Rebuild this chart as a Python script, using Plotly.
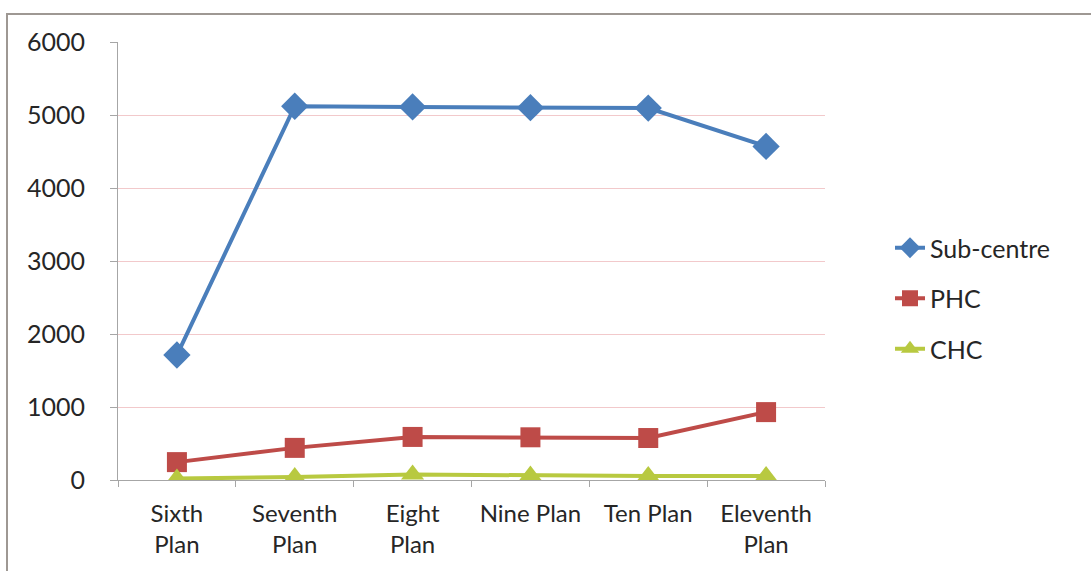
import plotly.graph_objects as go

categories = ["Sixth<br>Plan", "Seventh<br>Plan", "Eight<br>Plan", "Nine Plan", "Ten Plan", "Eleventh<br>Plan"]
sub_centre = [1712, 5120, 5110, 5100, 5095, 4570]
phc = [245, 440, 590, 585, 575, 930]
chc = [20, 40, 75, 60, 55, 55]
y_ticks = [0, 1000, 2000, 3000, 4000, 5000, 6000]

FONT = "Lato, 'Open Sans', sans-serif"
W, H = 1091, 571
L, R, T, B = 118, 825, 42, 480

fig = go.Figure()
series = [
    ("Sub-centre", sub_centre, "#4A7EBB", "diamond", 21),
    ("PHC", phc, "#BE4B48", "square", 20),
    ("CHC", chc, "#B8C940", "triangle-up", 20),
]
for name, vals, color, sym, size in series:
    fig.add_trace(go.Scatter(
        x=list(range(len(categories))), y=vals, name=name, mode="lines+markers",
        legendgroup=name,
        line=dict(color=color, width=4),
        marker=dict(symbol=sym, size=size, color=color),
    ))

fig.update_layout(
    width=W, height=H,
    margin=dict(l=L, r=W - R, t=T, b=H - B, autoexpand=False),
    paper_bgcolor="white", plot_bgcolor="white",
    font=dict(family=FONT, size=25, color="#262626"),
    showlegend=True,
    legend=dict(x=(890 - L) / (R - L), y=(480 - 225) / (B - T), xanchor="left", yanchor="top",
                font=dict(size=25, color="#262626"), tracegroupgap=15,
                bgcolor="rgba(0,0,0,0)"),
    xaxis=dict(
        range=[-0.5, 5.5], tickmode="array", tickvals=list(range(len(categories))),
        ticktext=categories, showgrid=False, zeroline=False,
        showline=True, linecolor="#A6A6A6", linewidth=1,
        ticks="", ticklabelstandoff=12,
        tickfont=dict(size=24),
        minor=dict(tickmode="array", tickvals=[-0.5, 0.5, 1.5, 2.5, 3.5, 4.5, 5.5], ticks="outside", ticklen=6, tickcolor="#A6A6A6"),
    ),
    yaxis=dict(
        range=[0, 6000], tickmode="array", tickvals=y_ticks,
        showgrid=True, gridcolor="#F2C9CB", gridwidth=1, zeroline=False,
        showline=True, linecolor="#A6A6A6", linewidth=1,
        ticks="outside", ticklen=7, tickcolor="#A6A6A6", ticklabelstandoff=20,
    ),
    shapes=[dict(type="rect", xref="paper", yref="paper",
                 x0=(7 - L) / (R - L), x1=(1095 - L) / (R - L),
                 y0=(B - 580) / (B - T), y1=(B - 14) / (B - T),
                 line=dict(color="#9E9893", width=2), fillcolor="rgba(0,0,0,0)", layer="below")],
)

fig.write_html("out.html")
